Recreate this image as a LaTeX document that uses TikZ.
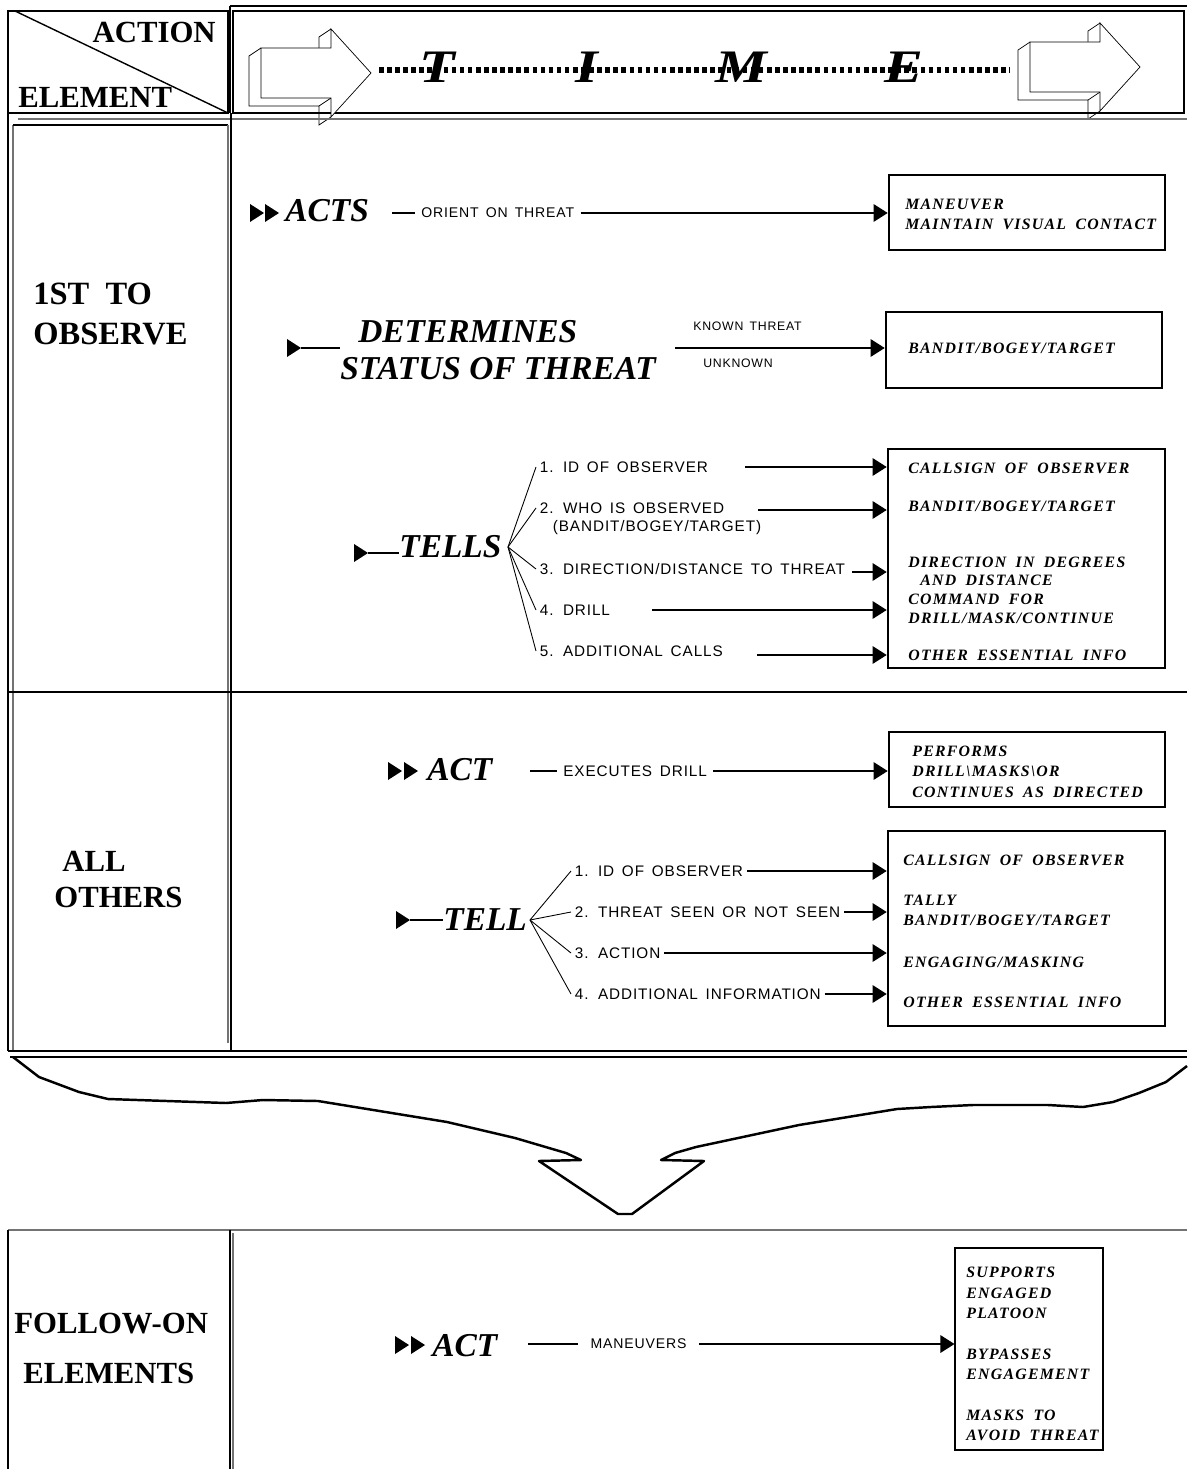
\documentclass[tikz,border=0pt]{standalone}
\usepackage{fontspec}
\setmainfont{Liberation Serif}
\setsansfont{Liberation Sans}
\newfontfamily\callfont[LetterSpace=6,WordSpace=1.5]{Liberation Sans}
\newfontfamily\boxfont[LetterSpace=8,WordSpace=1.8]{Liberation Serif}
\usetikzlibrary{arrows.meta,fit}

\begin{document}
\begin{tikzpicture}[x=0.02cm,y=-0.02cm,
    rule/.style={line width=0.8pt},
    thinrule/.style={line width=0.6pt,black!55},
    heading/.style={font=\bfseries\fontsize{17.5}{20}\selectfont,inner sep=0,anchor=base west},
    verb/.style={font=\bfseries\itshape\fontsize{19}{22}\selectfont,inner sep=0,anchor=base west},
    timeletter/.style={font=\bfseries\itshape\fontsize{26.5}{28}\selectfont,inner sep=0,anchor=base},
    call/.style={font=\callfont\fontsize{8.7}{10}\selectfont,inner sep=2pt,anchor=west},
    note/.style={font=\callfont\fontsize{8}{10}\selectfont,inner sep=3.4pt,anchor=west},
    reply/.style={font=\boxfont\bfseries\itshape\fontsize{9}{11.6}\selectfont,inner sep=0,anchor=west,align=left},
    resbox/.style={draw,line width=1.5pt,inner sep=0},
    arr/.style={-{Triangle[length=8pt,width=10pt]},line width=0.7pt},
    link/.style={line width=0.7pt},
    branch/.style={line width=0.5pt},
    bul/.pic={\fill (-7,-9) -- (7,0) -- (-7,9) -- cycle;}]
  \useasboundingbox (0,0) rectangle (1187,1469);

  % header
  \draw[rule] (8,11) rectangle (228,113);
  \draw[rule] (15,11) -- (228,113);
  \node[heading,anchor=base east] (action) at (216,43) {ACTION};
  \node[heading] (element) at (18,108) {ELEMENT};
  \draw[rule] (230,6) -- (1187,6);
  \draw[rule] (230,6) -- (230,113);
  \draw[rule] (233,11) rectangle (1184,113);

  % time arrows
  \begin{scope}[shift={(261,73)}]
    \draw (0,-25) -- (-12,-17) -- (-12,33) -- (58,33) -- (58,52) -- (70,44);
    \draw (70,25) -- (58,33);
    \draw (70,-44) -- (58,-36) -- (58,-25);
    \draw[fill=white] (0,-25) -- (70,-25) -- (70,-44) -- (110,0) -- (70,44) -- (70,25) -- (0,25) -- cycle;
    \coordinate (timestart) at (118,-3);
  \end{scope}
  \begin{scope}[shift={(1030,67)}]
    \draw (0,-25) -- (-12,-17) -- (-12,33) -- (58,33) -- (58,52) -- (70,44);
    \draw (70,25) -- (58,33);
    \draw (70,-44) -- (58,-36) -- (58,-25);
    \draw[fill=white] (0,-25) -- (70,-25) -- (70,-44) -- (110,0) -- (70,44) -- (70,25) -- (0,25) -- cycle;
    \coordinate (timeend) at (-20,3);
  \end{scope}
  \draw[line width=3pt,dash pattern=on 2.6pt off 2pt] (timestart) -- (timeend);
  \foreach \l/\x in {T/437,I/587,M/741,E/904}
    \node[timeletter] (t\l) at (\x,83) {\scalebox{1.25}[1]{\l}};

  % table frame
  \draw[thinrule] (18,119) -- (1187,119);
  \draw[rule] (8,113) -- (8,1051);
  \draw[thinrule] (13,125) -- (13,1051);
  \draw[rule] (13,125) -- (228,125);
  \draw[thinrule] (228,125) -- (228,1043);
  \draw[rule] (231,113) -- (231,1051);
  \draw[rule] (8,692) -- (1187,692);
  \draw[rule] (8,1051) -- (1187,1051);
  \draw[line width=1.4pt] (10,1057) -- (1187,1057);

  % 1st to observe
  \node[heading,font=\bfseries\fontsize{18.5}{20}\selectfont] (first1) at (33,305) {1ST\ \ TO};
  \node[heading,font=\bfseries\fontsize{18.5}{20}\selectfont] (first2) at (33,345) {OBSERVE};

  \pic at (257,213) {bul};
  \pic at (272,213) {bul};
  \node[verb] (acts) at (285,222) {ACTS};
  \coordinate (acts0) at (392,213);
  \node[note] (orient) at (415,213) {ORIENT ON THREAT};
  \node[resbox,fit={(889,175) (1165,250)}] (actsbox) {};
  \node[reply] (actsrep) at (905,214.5) {MANEUVER\\MAINTAIN VISUAL CONTACT};
  \draw[link] (acts0) -- (orient.west);
  \draw[arr] (orient.east) -- (orient -| actsbox.west);

  \pic at (294,348) {bul};
  \coordinate (det0) at (301,348);
  \node[verb] (det1) at (358,343) {DETERMINES};
  \node[verb] (det2) at (340,379) {STATUS OF THREAT};
  \draw[link] (det0) -- (det0 -| det2.west);
  \coordinate (det3) at (675,348);
  \node[resbox,fit={(886,312) (1162,388)}] (statbox) {};
  \draw[arr] (det3) -- (det3 -| statbox.west);
  \node[note,font=\callfont\fontsize{7}{8}\selectfont,anchor=base west,inner sep=0] (known) at (693,331) {KNOWN THREAT};
  \node[note,font=\callfont\fontsize{7}{8}\selectfont,anchor=base west,inner sep=0] (unknown) at (703,368) {UNKNOWN};
  \node[reply] (statrep) at (908,348) {BANDIT/BOGEY/TARGET};

  \pic at (361,553) {bul};
  \coordinate (tells0) at (368,553);
  \node[verb] (tells) at (399,557) {TELLS};
  \draw[link] (tells0) -- (tells0 -| tells.west);
  \coordinate (fork1) at (508,547);
  \node[call] (c1) at (536,467) {1. ID OF OBSERVER};
  \node[call] (c2) at (536,508) {2. WHO IS OBSERVED};
  \node[call] (c2b) at (549,528) {(BANDIT/BOGEY/TARGET)};
  \node[call] (c3) at (536,569) {3. DIRECTION/DISTANCE TO THREAT};
  \node[call] (c4) at (536,610) {4. DRILL};
  \node[call] (c5) at (536,651) {5. ADDITIONAL CALLS};
  \foreach \c in {c1,c2,c3,c4,c5}
    \draw[branch] (fork1) -- (\c.west);
  \node[resbox,fit={(888,449) (1165,668)}] (tellsbox) {};
  \coordinate (s1) at (745,467);
  \coordinate (s2) at (758,510);
  \coordinate (s3) at (852,572);
  \coordinate (s4) at (652,610);
  \coordinate (s5) at (757,655);
  \foreach \s in {s1,s2,s3,s4,s5}
    \draw[arr] (\s) -- (\s -| tellsbox.west);
  \node[reply] (r1) at (908,468) {CALLSIGN OF OBSERVER};
  \node[reply] (r2) at (908,506) {BANDIT/BOGEY/TARGET};
  \node[reply] (r3) at (908,562) {DIRECTION IN DEGREES};
  \node[reply] (r4) at (920,580) {AND DISTANCE};
  \node[reply] (r5) at (908,599) {COMMAND FOR};
  \node[reply] (r6) at (908,618) {DRILL/MASK/CONTINUE};
  \node[reply] (r7) at (908,655) {OTHER ESSENTIAL INFO};

  % all others
  \node[heading] (all1) at (62,871) {ALL};
  \node[heading] (all2) at (54,907) {OTHERS};

  \pic at (395,771) {bul};
  \pic at (411,771) {bul};
  \node[verb] (act) at (427,780) {ACT};
  \coordinate (act0) at (530,771);
  \node[note,font=\callfont\fontsize{8.7}{10}\selectfont] (exec) at (557,771) {EXECUTES DRILL};
  \node[resbox,fit={(889,732) (1165,807)}] (actbox) {};
  \node[reply] (actrep) at (912,771.5) {PERFORMS\\DRILL\textbackslash MASKS\textbackslash OR\\CONTINUES AS DIRECTED};
  \draw[link] (act0) -- (exec.west);
  \draw[arr] (exec.east) -- (exec -| actbox.west);

  \pic at (403,920) {bul};
  \coordinate (tell0) at (410,920);
  \node[verb] (tell) at (443,930) {TELL};
  \draw[link] (tell0) -- (tell0 -| tell.west);
  \coordinate (fork2) at (530,920);
  \node[call] (d1) at (571,871) {1. ID OF OBSERVER};
  \node[call] (d2) at (571,912) {2. THREAT SEEN OR NOT SEEN};
  \node[call] (d3) at (571,953) {3. ACTION};
  \node[call] (d4) at (571,994) {4. ADDITIONAL INFORMATION};
  \node[resbox,fit={(888,831) (1165,1026)}] (tellbox) {};
  \foreach \d in {d1,d2,d3,d4} {
    \draw[branch] (fork2) -- (\d.west);
    \draw[arr] (\d.east) -- (\d -| tellbox.west);
  }
  \node[reply] (q1) at (903,860) {CALLSIGN OF OBSERVER};
  \node[reply] (q2) at (903,910.5) {TALLY\\BANDIT/BOGEY/TARGET};
  \node[reply] (q3) at (903,962) {ENGAGING/MASKING};
  \node[reply] (q4) at (903,1002) {OTHER ESSENTIAL INFO};

  % brace
  \draw[line width=1.4pt,line join=round] (13,1057) -- (39,1077) -- (79,1092) -- (108,1099)
    -- (226,1103) -- (263,1100) -- (318,1101) -- (447,1122) -- (515,1138) -- (566,1153)
    -- (581,1160) -- (539,1161) -- (618,1214) -- (632,1214) -- (704,1161) -- (661,1160)
    -- (675,1153) -- (696,1147) -- (799,1125) -- (897,1109) -- (931,1107) -- (973,1105)
    -- (1048,1105) -- (1083,1107) -- (1113,1102) -- (1139,1093) -- (1166,1082) -- (1187,1066);

  % follow-on elements
  \draw[thinrule] (8,1230) -- (1187,1230);
  \draw[rule] (8,1230) -- (8,1469);
  \draw[rule] (230,1230) -- (230,1469);
  \draw[thinrule] (233,1233) -- (233,1469);
  \node[heading] (fol1) at (14,1333) {FOLLOW-ON};
  \node[heading] (fol2) at (23,1383) {ELEMENTS};

  \pic at (402,1345) {bul};
  \pic at (418,1345) {bul};
  \node[verb] (act2) at (432,1356) {ACT};
  \coordinate (fo0) at (528,1344);
  \node[note,inner sep=7pt] (man) at (578,1344) {MANEUVERS};
  \node[draw,line width=0.6pt,inner sep=0,fit={(955,1248) (1103,1450)}] (fobox) {};
  \node[reply,anchor=north west] (forep) at (966,1267)
    {SUPPORTS\\ENGAGED\\PLATOON\\[11.6pt]BYPASSES\\ENGAGEMENT\\[11.6pt]MASKS TO\\AVOID THREAT};
  \draw[link] (fo0) -- (man.west);
  \draw[arr] (man.east) -- (man -| fobox.west);
\end{tikzpicture}
\end{document}
